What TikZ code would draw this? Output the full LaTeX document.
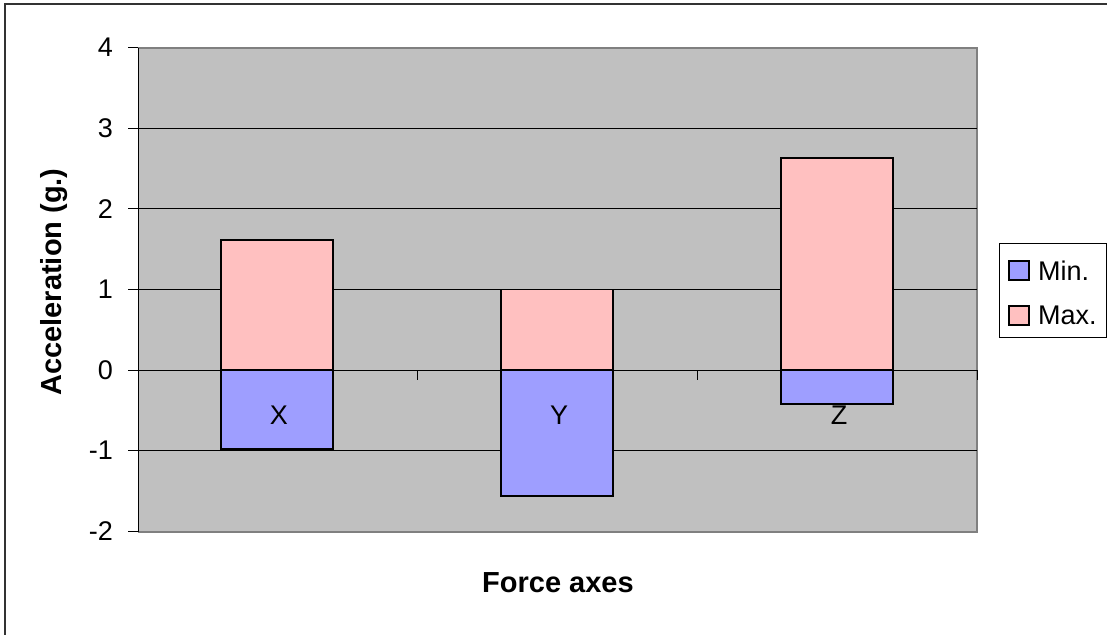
\documentclass[tikz,border=0pt]{standalone}
\usepackage{fontspec}
\setmainfont{Liberation Sans}
\definecolor{plotgray}{HTML}{C0C0C0}
\definecolor{minblue}{HTML}{9E9EFF}
\definecolor{maxpink}{HTML}{FFC0C0}
\definecolor{edgegray}{HTML}{808080}
\tikzset{
  ticklabel/.style={font=\fontsize{27}{32}\selectfont, inner sep=0pt},
  axistitle/.style={font=\fontsize{29}{34}\selectfont\bfseries, inner sep=0pt},
  barbox/.style={draw=black, line width=1.5pt},
}
\begin{document}
\begin{tikzpicture}[x=1pt,y=-1pt]
			\useasboundingbox (0,0) rectangle (1107,634);

			% Chart frame
			\draw[line width=1.6pt, black!80] (5,640) -- (5,4) -- (1112,4);

			% Plot area
			\fill[plotgray] (138,48) rectangle (977,532);
			\draw[edgegray, line width=1.2pt] (138,48) -- (977,48) -- (977,532) -- (138,532);

			% Gridlines
			\foreach \v in {-1,1,2,3}
			\draw[line width=0.8pt] (138,{370-80.67*\v}) -- (977,{370-80.67*\v});

			% Value axis, ticks and labels
			\draw[line width=1pt] (138,48) -- (138,532);
			\foreach \v [count=\i] in {-2,...,4} {
			\draw[line width=0.8pt] (128,{370-80.67*\v}) -- (138,{370-80.67*\v});
			\node[ticklabel, anchor=east] (tick\i) at (113,{370-80.67*\v}) {\v};
			}

			% Bars (max above, min below zero)
			\foreach \c/\lo/\hi in {277/-0.98/1.61,557/-1.56/1.0,837/-0.42/2.63} {
			\filldraw[barbox, fill=maxpink] ({\c-56},370) rectangle ({\c+56},{370-80.67*\hi});
			\filldraw[barbox, fill=minblue] ({\c-56},370) rectangle ({\c+56},{370-80.67*\lo});
			}

			% Category axis and labels
			\draw[line width=1pt] (138,370) -- (977,370);
			\foreach \x in {417,697,977}
			\draw[line width=0.8pt] (\x,370) -- (\x,380);
			\foreach \c/\n in {279/X,559/Y,839/Z}
			\node[ticklabel] (cat\n) at (\c,415) {\n};

			% Axis titles
			\node[axistitle] (xtitle) at (558,583) {Force axes};
			\node[axistitle, rotate=90] (ytitle) at (54.5,282) {Acceleration (g.)};

			% Legend
			\draw[line width=0.8pt, fill=white] (999,243) rectangle (1106,337);
			\foreach \y/\col/\t in {261/minblue/Min.,306/maxpink/Max.} {
			\filldraw[fill=\col, draw=black, line width=1.2pt] (1009,\y) rectangle (1029,{\y+19});
			\node[ticklabel, anchor=west] (key\t) at (1038,{\y+9.5}) {\t};
			}
		\end{tikzpicture}
\end{document}
